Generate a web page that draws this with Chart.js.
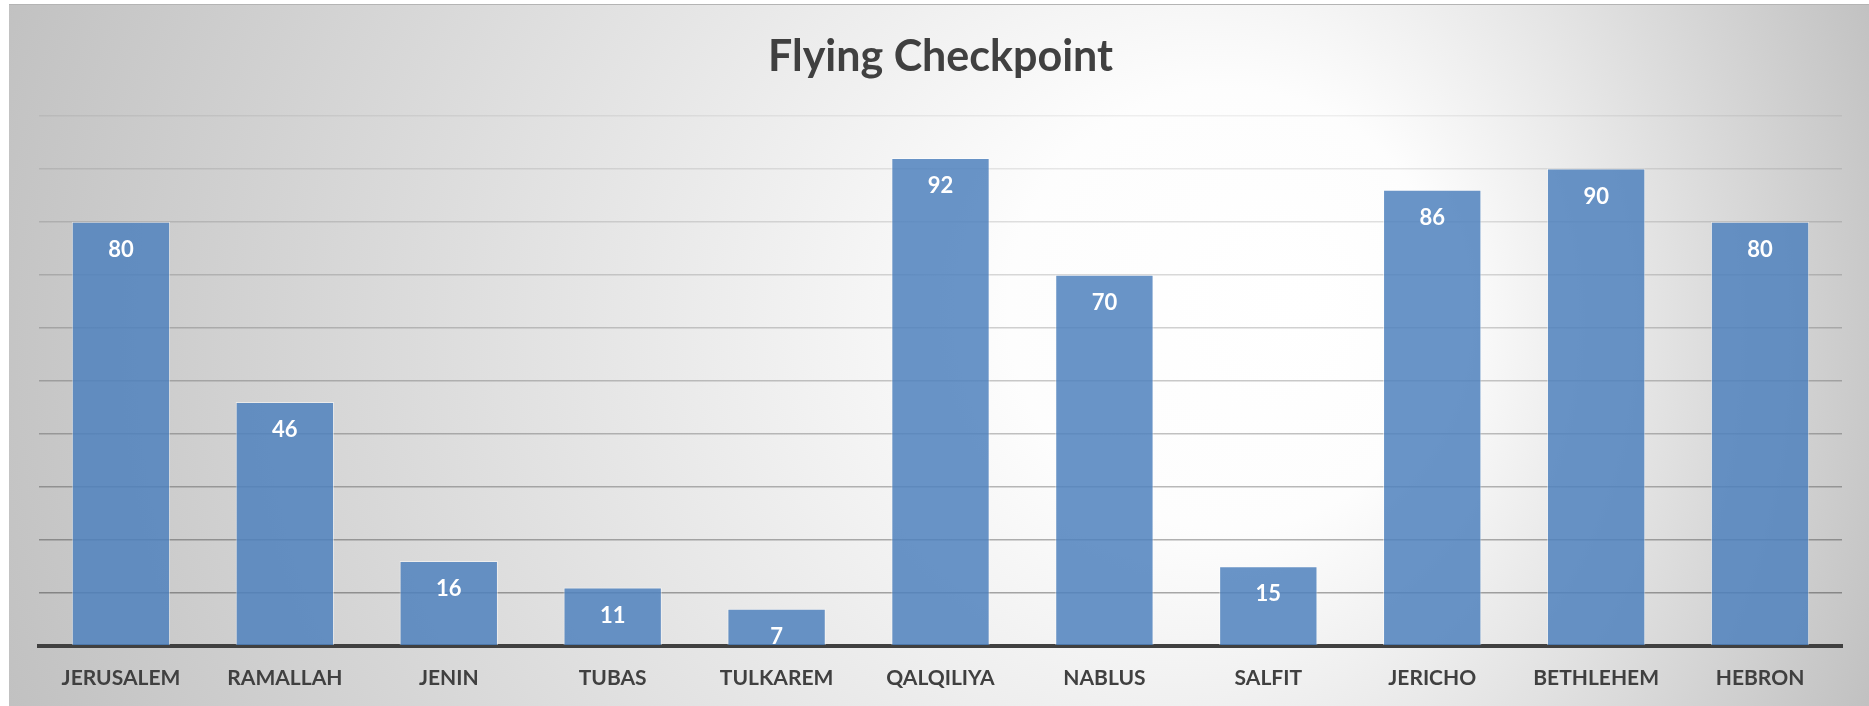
<!DOCTYPE html>
<html>
<head>
<meta charset="utf-8">
<script src="https://cdn.jsdelivr.net/npm/chart.js@4"></script>
<style>
  html, body { margin: 0; padding: 0; background: #fff; }
  #wrap { position: absolute; left: 9px; top: 4px; width: 1860px; height: 702px; border-top: 1px solid #b4b4b4; }
</style>
</head>
<body>
<div id="wrap"><canvas id="flyingChart" width="1860" height="701"></canvas></div>
<script>
var cities = ['JERUSALEM', 'RAMALLAH', 'JENIN', 'TUBAS', 'TULKAREM', 'QALQILIYA', 'NABLUS', 'SALFIT', 'JERICHO', 'BETHLEHEM', 'HEBRON'];
var checkpoints = [80, 46, 16, 11, 7, 92, 70, 15, 86, 90, 80];
var yMin = 0;
var yMax = 100;
var yStep = 10;

// grey radial fill behind everything, lightest right of centre
var chartBackground = {
  id: 'chartBackground',
  beforeDraw: function(chart) {
    var ctx = chart.ctx;
    var g = ctx.createRadialGradient(1301, 295, 0, 891, 345, 1100);
    g.addColorStop(0, '#ffffff');
    g.addColorStop(0.2, '#fdfdfd');
    g.addColorStop(1, '#b9b9b9');
    ctx.save();
    ctx.fillStyle = g;
    ctx.fillRect(0, 0, chart.width, chart.height);
    ctx.restore();
  }
};

// white numbers inside the top of each bar
var valueLabels = {
  id: 'valueLabels',
  afterDatasetsDraw: function(chart) {
    var ctx = chart.ctx;
    var meta = chart.getDatasetMeta(0);
    ctx.save();
    ctx.font = 'bold 22px Lato';
    ctx.fillStyle = '#ffffff';
    ctx.textAlign = 'center';
    ctx.textBaseline = 'middle';
    meta.data.forEach(function(bar, i) {
      ctx.fillText(checkpoints[i], bar.x, bar.y + 28);
    });
    ctx.restore();
  }
};

var chartCtx = document.getElementById('flyingChart').getContext('2d');
var flyingChart = new Chart(chartCtx, {
  type: 'bar',
  data: {
    labels: cities,
    datasets: [
      {
        data: checkpoints,
        backgroundColor: 'rgba(79, 129, 189, 0.85)',
        borderColor: 'rgba(255, 255, 255, 0.5)',
        borderWidth: 1,
        categoryPercentage: 1,
        barPercentage: 0.6,
      },
    ],
  },
  plugins: [chartBackground, valueLabels],
  options: {
    responsive: false,
    animation: false,
    layout: {
      padding: { left: 30, right: 27, top: 0, bottom: -5 },
    },
    plugins: {
      legend: { display: false },
      tooltip: { enabled: false },
      title: {
        display: true,
        text: 'Flying Checkpoint',
        color: '#404040',
        font: { family: 'Lato', size: 43, weight: 'bold' },
        padding: { top: 26, bottom: 33 },
      },
    },
    scales: {
      x: {
        grid: { display: false, drawTicks: false },
        border: { display: true, color: '#404040', width: 4 },
        ticks: {
          color: '#404040',
          padding: 20,
          font: { family: 'Lato', size: 21, weight: 'bold' },
        },
      },
      y: {
        min: yMin,
        max: yMax,
        ticks: { display: false, stepSize: yStep },
        border: { display: false },
        grid: {
          drawTicks: false,
          lineWidth: 1.5,
          color: function(c) {
            var a = 0.36 - (c.tick.value / yMax) * 0.3;
            return 'rgba(0, 0, 0, ' + a.toFixed(3) + ')';
          },
        },
      },
    },
  },
});
</script>
</body>
</html>
